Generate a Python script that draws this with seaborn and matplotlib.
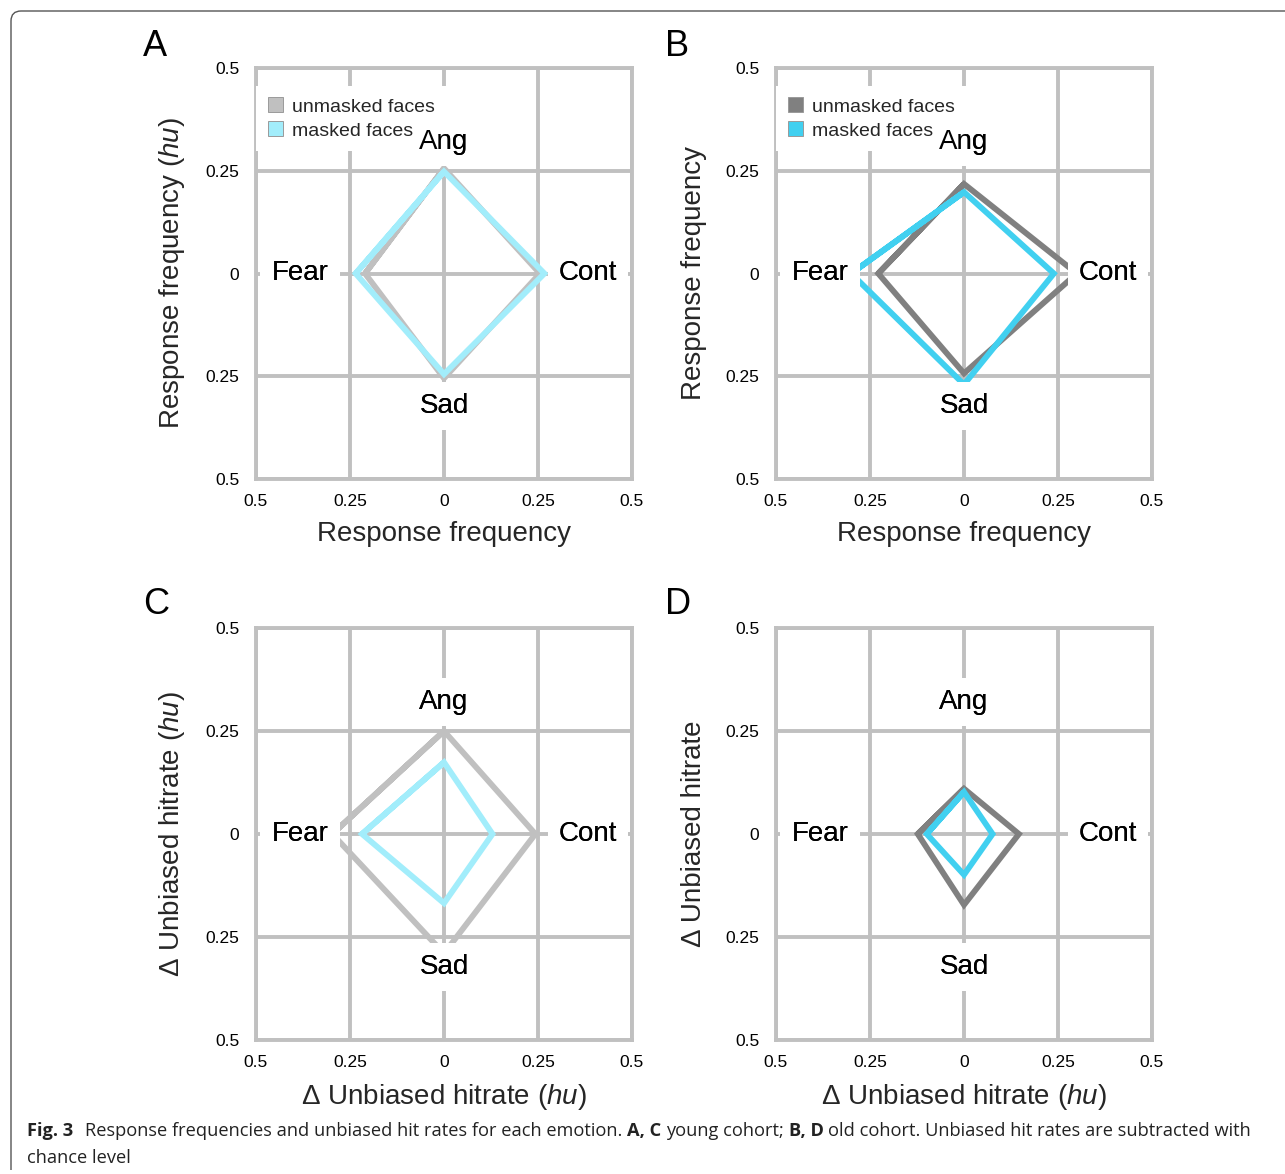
import numpy as np
import pandas as pd
import matplotlib
matplotlib.use("Agg")
import matplotlib.pyplot as plt
import seaborn as sns
from matplotlib.patches import Patch, PathPatch
from matplotlib.path import Path

# ---------------- data ----------------
emotions = ["Ang", "Cont", "Sad", "Fear"]
conditions = ["unmasked faces", "masked faces"]

A_unmasked = [0.256, 0.255, 0.255, 0.210]
A_masked = [0.248, 0.267, 0.245, 0.235]
B_unmasked = [0.218, 0.300, 0.243, 0.228]
B_masked = [0.198, 0.239, 0.270, 0.300]
C_unmasked = [0.250, 0.243, 0.290, 0.297]
C_masked = [0.174, 0.129, 0.168, 0.218]
D_unmasked = [0.110, 0.146, 0.172, 0.123]
D_masked = [0.102, 0.076, 0.099, 0.099]

tick_values = [-0.5, -0.25, 0, 0.25, 0.5]
tick_labels = ["0.5", "0.25", "0", "0.25", "0.5"]

panel_letters = ["A", "B", "C", "D"]
ylabels = [r"Response frequency ($\mathit{hu}$)", "Response frequency",
           r"Δ Unbiased hitrate ($\mathit{hu}$)", "Δ Unbiased hitrate"]
xlabels = ["Response frequency", "Response frequency",
           r"Δ Unbiased hitrate ($\mathit{hu}$)", r"Δ Unbiased hitrate ($\mathit{hu}$)"]

# ---------------- style ----------------
sns.set_theme(style="white")
plt.rcParams["font.family"] = ["Liberation Sans", "DejaVu Sans"]
plt.rcParams["mathtext.fontset"] = "custom"
plt.rcParams["mathtext.rm"] = "Liberation Sans"
plt.rcParams["mathtext.it"] = "Liberation Sans:italic"
plt.rcParams["mathtext.bf"] = "Liberation Sans:bold"

GRID = "#c0c0c0"
pal_young = {"unmasked faces": "#c0c0c0", "masked faces": "#a2edfb"}
pal_old = {"unmasked faces": "#808080", "masked faces": "#41d0f0"}

directions = {"Ang": (0, 1), "Cont": (1, 0), "Sad": (0, -1), "Fear": (-1, 0)}
path_order = ["Fear", "Ang", "Cont", "Sad", "Fear", "Ang"]


def diamond_df(unm, msk):
    rows = []
    for cond, vals in zip(conditions, [unm, msk]):
        d = dict(zip(emotions, vals))
        for i, e in enumerate(path_order):
            dx, dy = directions[e]
            rows.append(dict(x=dx * d[e], y=dy * d[e], cond=cond, step=i))
    return pd.DataFrame(rows)


W, H = 1285, 1174
fig = plt.figure(figsize=(W / 100, H / 100), dpi=100)

# axes rectangles in pixels: left, top, right, bottom
rects = [(256, 68, 632, 479), (776, 68, 1152, 479),
         (256, 628, 632, 1040), (776, 628, 1152, 1040)]
datasets = [(A_unmasked, A_masked, pal_young), (B_unmasked, B_masked, pal_old),
            (C_unmasked, C_masked, pal_young), (D_unmasked, D_masked, pal_old)]

label_pos = {"Ang": (0, 0.321), "Sad": (0, -0.322), "Fear": (-0.383, 0), "Cont": (0.383, 0)}

for i, ((l, t, r, b), (unm, msk, pal)) in enumerate(zip(rects, datasets)):
    ax = fig.add_axes([l / W, 1 - b / H, (r - l) / W, (b - t) / H])
    df = diamond_df(unm, msk)
    sns.lineplot(data=df, x="x", y="y", hue="cond", hue_order=conditions,
                 palette=pal, sort=False, estimator=None, linewidth=4.2,
                 legend=False, ax=ax, zorder=3)
    for ln in ax.lines:
        ln.set_solid_joinstyle("miter")
        ln.set_solid_capstyle("butt")
    ax.set_xlim(-0.5, 0.5)
    ax.set_ylim(-0.5, 0.5)
    ax.set_xticks(tick_values)
    ax.set_yticks(tick_values)
    ax.set_xticklabels(tick_labels)
    ax.set_yticklabels(tick_labels)
    ax.tick_params(axis="both", length=0, labelsize=12.5, colors="black")
    ax.tick_params(axis="x", pad=10.5)
    ax.tick_params(axis="y", pad=12)
    ax.set_axisbelow(True)
    ax.grid(True, color=GRID, linewidth=2.8)
    for sp in ax.spines.values():
        sp.set_visible(True)
        sp.set_color(GRID)
        sp.set_linewidth(2.8)
    ax.set_xlabel(xlabels[i], fontsize=20)
    ax.set_ylabel(ylabels[i], fontsize=20)
    ax.xaxis.set_label_coords(0.5, -0.102)
    ax.yaxis.set_label_coords(-0.183, 0.5)

    for emo, (px, py) in label_pos.items():
        # white box hiding grid and lines (below legend)
        ax.text(px, py, emo, ha="center", va="center", fontsize=20, color="black",
                zorder=4,
                bbox=dict(boxstyle="square,pad=0.4", fc="white", ec="none"))
        # glyphs on top of everything
        ax.text(px, py, emo, ha="center", va="center", fontsize=20, color="black",
                zorder=7)

    if i < 2:
        handles = [Patch(facecolor=pal[c], edgecolor="#9a9a9a", linewidth=0.7, label=c)
                   for c in conditions]
        leg = ax.legend(handles=handles, loc="upper left", bbox_to_anchor=(0.0, 0.957),
                        borderaxespad=0, fontsize=14, handlelength=0.8, handleheight=0.8,
                        handletextpad=0.45, labelspacing=0.3, borderpad=0.6,
                        frameon=True, fancybox=False, framealpha=1,
                        facecolor="white", edgecolor="none")
        leg.set_zorder(5)

    lx = 143 if i % 2 == 0 else 665
    ly = 56 if i < 2 else 614
    fig.text(lx / W, 1 - ly / H, panel_letters[i], fontsize=26, ha="left",
             va="baseline", color="black")

# ---------------- frame ----------------
pts = [(11, 1170), (11, 21), (11, 11), (21, 11), (1295, 11)]
verts = [(x / W, 1 - y / H) for x, y in pts]
codes = [Path.MOVETO, Path.LINETO, Path.CURVE3, Path.CURVE3, Path.LINETO]
fig.patches.append(PathPatch(Path(verts, codes), transform=fig.transFigure,
                             fill=False, edgecolor="#555555", linewidth=1.0))

# ---------------- caption ----------------
cap_font = ["Open Sans", "DejaVu Sans"]
cap_size = 13.15
renderer = fig.canvas.get_renderer()


def width_of(s, weight):
    t = fig.text(0, 0, s, fontsize=cap_size, family=cap_font, weight=weight)
    w = t.get_window_extent(renderer=renderer).width
    t.remove()
    return w


space_w = width_of("x x", "normal") - width_of("xx", "normal")

pieces = [("Fig. 3", "bold", 2.5),
          ("Response frequencies and unbiased hit rates for each emotion.", "normal", 1),
          ("A, C", "bold", 1),
          ("young cohort;", "normal", 1),
          ("B, D", "bold", 1),
          ("old cohort. Unbiased hit rates are subtracted with", "normal", 0)]

x = 27.0
y1 = 1 - 1136 / H
for s, wgt, nsp in pieces:
    t = fig.text(x / W, y1, s, fontsize=cap_size, family=cap_font, weight=wgt,
                 ha="left", va="baseline", color="#222222")
    x += t.get_window_extent(renderer=renderer).width + nsp * space_w

fig.text(27 / W, 1 - 1163 / H, "chance level", fontsize=cap_size, family=cap_font,
         ha="left", va="baseline", color="#222222")

fig.savefig("out.png", dpi=100, facecolor="white")
